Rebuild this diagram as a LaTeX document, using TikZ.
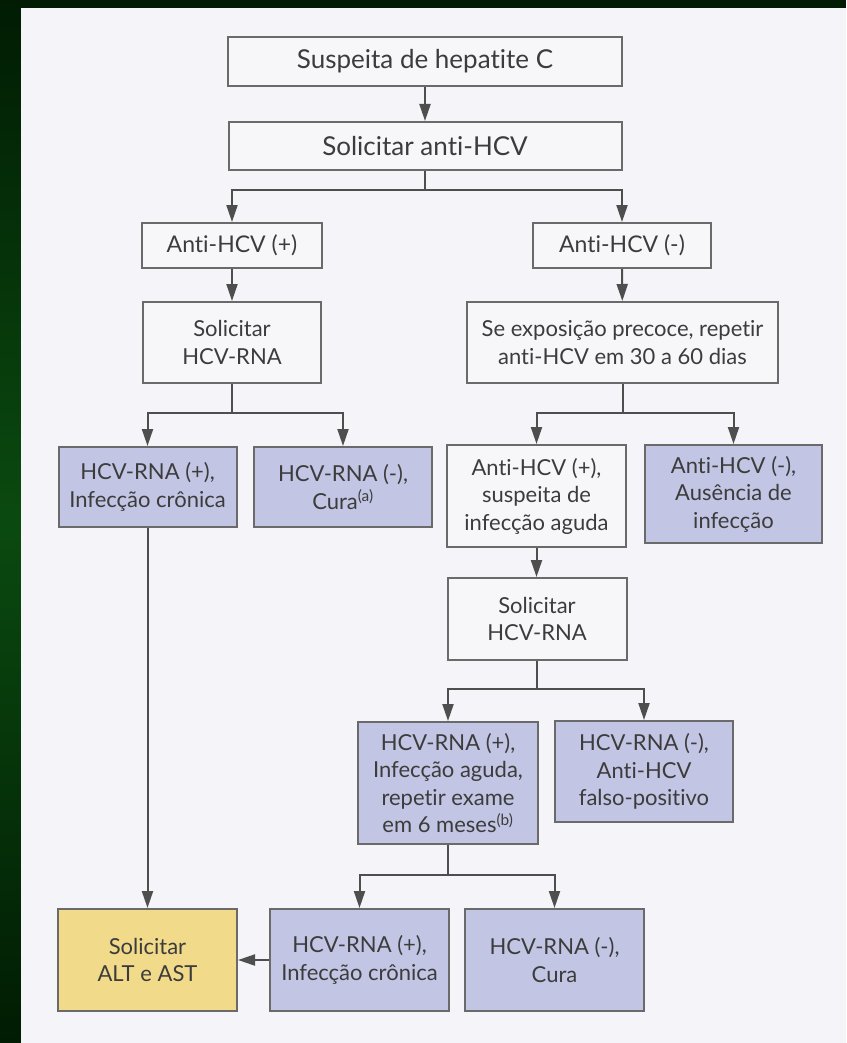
\documentclass[tikz,border=0pt]{standalone}
\usepackage{fontspec}
\setmainfont{Lato}[Ligatures={NoCommon,NoDiscretionary}]
\usetikzlibrary{arrows.meta}
\definecolor{bgdark}{HTML}{011C03}
\definecolor{bgglow}{HTML}{0A4A10}
\definecolor{paper}{HTML}{F4F4F9}
\definecolor{boxwhite}{HTML}{F7F7FA}
\definecolor{boxblue}{HTML}{C2C5E3}
\definecolor{boxyellow}{HTML}{F1DA8A}
\definecolor{edge}{HTML}{6A6A6A}
\definecolor{ink}{HTML}{3C3C3C}
\definecolor{wire}{HTML}{4E4E4E}
\begin{document}
\begin{tikzpicture}[x=1pt,y=-1pt,
  sz/.style 2 args={minimum width=#1pt, minimum height=#2pt},
  box/.style={draw=edge, line width=2pt, fill=boxwhite, text=ink, align=center,
    inner sep=0pt, font=\fontsize{22}{27.5}\selectfont},
  bigbox/.style={box, font=\fontsize{26}{30}\selectfont},
  midbox/.style={box, font=\fontsize{23}{27}\selectfont},
  bluebox/.style={box, fill=boxblue},
  yellowbox/.style={box, fill=boxyellow},
  ln/.style={draw=wire, line width=2pt},
  arr/.style={ln, -{Triangle[length=17pt,width=11pt]}}
]
\useasboundingbox (0,0) rectangle (846,1043);
% background
\fill[bgdark] (0,0) rectangle (846,1043);
\shade[top color=bgdark, bottom color=bgdark, middle color=bgglow] (0,0) rectangle (21,1043);
\fill[paper] (21,8) rectangle (846,1043);

% nodes
\node[bigbox, sz={394}{49}] (s1) at (425,61.5) {Suspeita de hepatite C};
\node[bigbox, sz={393}{48}] (s2) at (425,146) {Solicitar anti-HCV};
\node[midbox, sz={180}{45}] (a1) at (232,245.5) {Anti-HCV (+)};
\node[midbox, sz={178}{45}] (a2) at (622,245.5) {Anti-HCV (-)};
\node[box, sz={178}{81}] (r1) at (232,342.5) {Solicitar\\HCV-RNA};
\node[box, sz={311}{81}] (e1) at (622.5,342.5) {Se exposição precoce, repetir\\anti-HCV em 30 a 60 dias};
\node[bluebox, sz={178}{80}] (p1) at (147.5,487) {HCV-RNA (+),\\Infecção crônica};
\node[bluebox, sz={178}{80}] (n1) at (343,487) {HCV-RNA (-),\\Cura\textsuperscript{(a)}};
\node[box, sz={179}{102}] (q1) at (536.5,496) {Anti-HCV (+),\\suspeita de\\infecção aguda};
\node[bluebox, sz={177}{98}] (q2) at (733.5,494) {Anti-HCV (-),\\Ausência de\\infecção};
\node[box, sz={179}{82}] (r2) at (537,619) {Solicitar\\HCV-RNA};
\node[bluebox, sz={180}{122}] (g1) at (448,783) {HCV-RNA (+),\\Infecção aguda,\\repetir exame\\em 6 meses\textsuperscript{(b)}};
\node[bluebox, sz={178}{101}] (g2) at (644,771.5) {HCV-RNA (-),\\Anti-HCV\\falso-positivo};
\node[yellowbox, sz={179}{102}] (alt) at (147.5,960) {Solicitar\\ALT e AST};
\node[bluebox, sz={179}{102}] (c1) at (359.5,960) {HCV-RNA (+),\\Infecção crônica};
\node[bluebox, sz={179}{102}] (c2) at (554.5,960) {HCV-RNA (-),\\Cura};

% branch points
\coordinate (b1) at (425,190);
\coordinate (b2) at (232,413);
\coordinate (b3) at (622.5,413);
\coordinate (b4) at (537,689);
\coordinate (b5) at (448,875);

% connectors
\draw[arr] (s1) -- (s2);
\draw[ln] (s2.south) -- (b1);
\draw[arr] (b1) -| (a1.north);
\draw[arr] (b1) -| (a2.north);
\draw[arr] (a1) -- (r1);
\draw[arr] (a2) -- (e1);
\draw[ln] (r1.south) -- (b2);
\draw[arr] (b2) -| (p1.north);
\draw[arr] (b2) -| (n1.north);
\draw[ln] (e1.south) -- (b3);
\draw[arr] (b3) -| (q1.north);
\draw[arr] (b3) -| (q2.north);
\draw[arr] (q1.south) -- (q1.south |- r2.north);
\draw[ln] (r2.south) -- (b4);
\draw[arr] (b4) -| (g1.north);
\draw[arr] (b4) -| (g2.north);
\draw[ln] (g1.south) -- (b5);
\draw[arr] (b5) -| (c1.north);
\draw[arr] (b5) -| (c2.north);
\draw[arr] (c1.west) -- (alt.east);
\draw[arr] (p1.south) -- (alt.north);
\end{tikzpicture}
\end{document}
